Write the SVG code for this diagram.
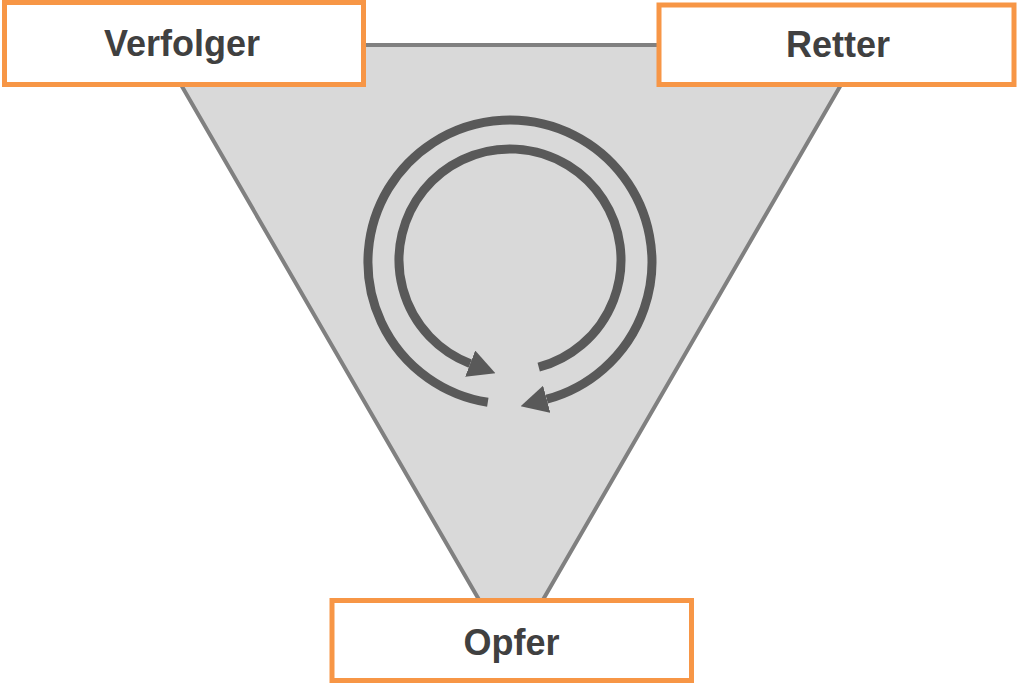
<svg xmlns="http://www.w3.org/2000/svg" width="1018" height="685" viewBox="0 0 1018 685">
<style>
.box{fill:#ffffff;stroke:#F79646;stroke-width:5}
.lbl{font-family:"Liberation Sans",Arial,sans-serif;font-weight:bold;font-size:36px;fill:#404040;text-anchor:middle}
.arc{fill:none;stroke:#595959;stroke-width:9}
</style>
<defs>
<marker id="ah" markerUnits="userSpaceOnUse" markerWidth="27" markerHeight="28" viewBox="0 0 27 28" refX="0" refY="14" orient="auto">
<path d="M0,0 L27,14 L0,28 z" fill="#595959"/>
</marker>
</defs>
<g id="connectors">
<polygon id="triangle" points="158,45 864,45 511,655" fill="#D9D9D9" stroke="#808080" stroke-width="4" stroke-linejoin="miter"/>
<path id="outer-arrow" class="arc" d="M487.8,402.3 A142,142 0 1 1 546.7,399.2" marker-end="url(#ah)"/>
<path id="inner-arrow" class="arc" d="M538.7,367.2 A111,111 0 1 0 470.2,363.6" marker-end="url(#ah)"/>
</g>
<g id="verfolger">
<rect class="box" x="4.5" y="2.5" width="359" height="82"/>
<text class="lbl" x="182" y="56">Verfolger</text>
</g>
<g id="retter">
<rect class="box" x="659" y="5" width="355" height="79.5"/>
<text class="lbl" x="838" y="57">Retter</text>
</g>
<g id="opfer">
<rect class="box" x="332" y="600.5" width="359.5" height="80"/>
<text class="lbl" x="511.5" y="655">Opfer</text>
</g>
</svg>
